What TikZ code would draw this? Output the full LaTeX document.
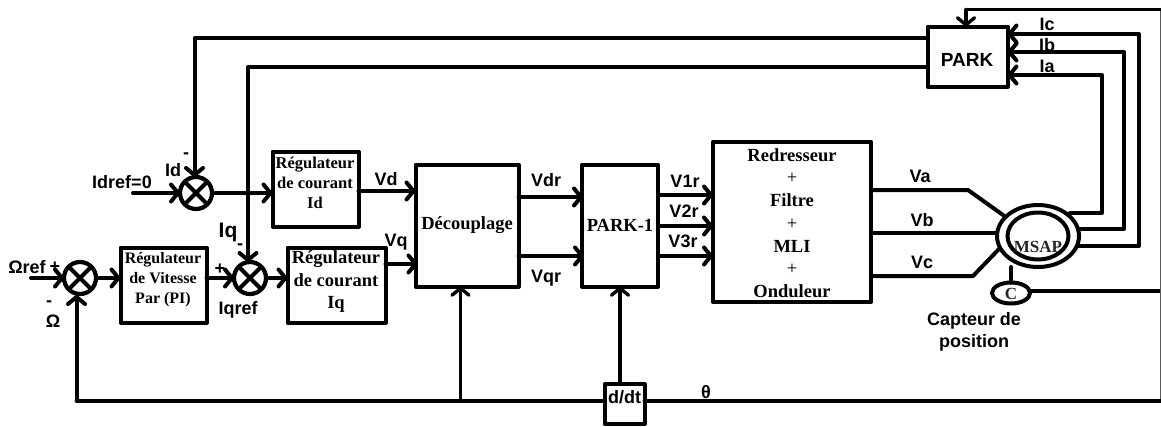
\documentclass[tikz,border=0pt]{standalone}
\usepackage{fontspec}
\setmainfont{Liberation Serif}
\setsansfont{Liberation Sans}
\usetikzlibrary{arrows.meta,calc,shapes.geometric}
\tikzset{
  x=1pt,y=-1pt,
  wire/.style={line width=4pt,line cap=round,line join=round},
  arr/.style={wire,-{Straight Barb[length=7pt,width=17pt,line cap=round,line join=round]}},
  thinwire/.style={line width=3pt,line join=miter},
  blockbox/.style={draw,line width=4pt,line join=round,rectangle,inner sep=0pt,outer sep=0pt,align=center,font=\bfseries\fontsize{18.5}{20}\selectfont},
  sumnode/.style={draw,circle,line width=4.2pt,minimum size=32pt,inner sep=0pt,outer sep=0pt,
    path picture={\draw[line width=4.2pt] (path picture bounding box.north west)--(path picture bounding box.south east)
      (path picture bounding box.north east)--(path picture bounding box.south west);}},
  lab/.style={inner sep=0pt,font=\sffamily\bfseries\fontsize{18}{21}\selectfont,align=center},
  slab/.style={inner sep=0pt,font=\bfseries\fontsize{17}{20}\selectfont,align=center},
}
\begin{document}
\begin{tikzpicture}
\useasboundingbox (0,0) rectangle (1161,426);
% sums
\node[sumnode] (sd) at (196,193) {};
\node[sumnode] (so) at (80,278) {};
\node[sumnode] (sq) at (250,278) {};
% boxes
\node[blockbox,minimum width=86pt,minimum height=75pt] (rid) at (315.5,189) {};
\node[slab,font=\bfseries\fontsize{16.5}{20}\selectfont] (ridt) at (315,183) {Régulateur\\de courant\\Id};
\node[blockbox,minimum width=86pt,minimum height=75pt] (rv) at (163.5,285) {};
\node[slab,font=\bfseries\fontsize{16}{20}\selectfont] (rvt) at (163,280) {Régulateur\\de Vitesse\\Par (PI)};
\node[blockbox,minimum width=98pt,minimum height=75pt] (riq) at (336.5,285) {};
\node[slab,font=\bfseries\fontsize{18.5}{22.5}\selectfont] (riqt) at (336,282) {Régulateur\\de courant\\Iq};
\node[blockbox,minimum width=103pt,minimum height=122pt] (dec) at (467,225.5) {Découplage};
\node[blockbox,minimum width=76pt,minimum height=122pt] (pi) at (620,225.5) {PARK-1};
\node[blockbox,minimum width=158pt,minimum height=160pt] (red) at (792,222) {};
\node[slab,font=\bfseries\fontsize{18.5}{22.7}\selectfont] (redt) at (792,223) {Redresseur\\{\mdseries +}\\Filtre\\{\mdseries +}\\MLI\\{\mdseries +}\\Onduleur};
\node[blockbox,minimum width=40pt,minimum height=40pt] (ddt) at (624.5,404) {};
\node[lab] (ddtt) at (624.5,397) {d/dt};
\node[blockbox,minimum width=80pt,minimum height=60pt] (park) at (967.5,56.5) {};
\node[lab,font=\sffamily\bfseries\fontsize{19}{21}\selectfont] (parkt) at (967,60) {PARK};
% machine
\node[draw,ellipse,line width=4pt,minimum width=82pt,minimum height=62pt,inner sep=0pt,outer sep=0pt] (mo) at (1038,236) {};
\node[draw,ellipse,line width=4pt,minimum width=61pt,minimum height=47pt,inner sep=0pt,outer sep=0pt] (mi) at (1038,236) {};
\node[slab,text=black!85] (mt) at (1038,247) {MSAP};
\node[draw,ellipse,line width=4pt,minimum width=38pt,minimum height=21pt,inner sep=0pt,outer sep=0pt] (cap) at (1011,293) {};
\node[slab,text=black!85] (capt) at (1011,294) {C};
% named free ends
\coordinate (in1) at (133,193);
\coordinate (in2) at (31,278);
\coordinate (bl) at (76.5,400.5);
\coordinate (bd) at (460.5,400.5);
\coordinate (br) at (1160.5,400.5);
\coordinate (tr) at (1160.5,9.5);
\coordinate (tl) at (966,9.5);
\coordinate (cr) at (1160.5,291);
\coordinate (p1) at (194.5,38);
\coordinate (p2) at (248,67);
\coordinate (c1) at (1139,34);
\coordinate (c2) at (1139,246);
\coordinate (b1) at (1124,52);
\coordinate (b2) at (1124,229);
\coordinate (a1) at (1102,75);
\coordinate (a2) at (1102,213);
\coordinate (va1) at (968,190);
\coordinate (va2) at (1003,215);
\coordinate (vc1) at (973,276);
\coordinate (vc2) at (999,249);
\coordinate (yvd) at (0,191);
\coordinate (yvq) at (0,264);
\coordinate (yvdr) at (0,197);
\coordinate (yvqr) at (0,256);
\coordinate (yv1) at (0,195);
\coordinate (yv2) at (0,226);
\coordinate (yvb) at (0,233);
% forward arrows
\draw[arr] (in1) -- (sd.west);
\draw[arr] (in2) -- (so.west);
\draw[arr] ($(sd.east)+(3,0)$) -- (rid.west |- sd);
\draw[arr] ($(so.east)+(3,0)$) -- (rv.west |- so);
\draw[arr] (rv.east |- sq) -- (sq.west);
\draw[arr] ($(sq.east)+(3,0)$) -- (riq.west |- sq);
\draw[arr] (rid.east |- yvd) -- (dec.west |- yvd);
\draw[arr] (riq.east |- yvq) -- ($(dec.west |- yvq)+(2,0)$);
\draw[arr] (dec.east |- yvdr) -- ($(pi.west |- yvdr)+(1,0)$);
\draw[arr] (dec.east |- yvqr) -- ($(pi.west |- yvqr)+(2,0)$);
\draw[arr] (pi.east |- yv1) -- (red.west |- yv1);
\draw[arr] (pi.east |- yv2) -- (red.west |- yv2);
\draw[arr] (pi.east |- yvqr) -- (red.west |- yvqr);
% feedback
\draw[arr] (park.west |- p1) -- (p1) -- (sd.north -| p1);
\draw[arr] (park.west |- p2) -- (p2) -- (sq.north -| p2);
\draw[arr] (mo.east |- c2) -- (c2) -- (c1) -- (park.east |- c1);
\draw[arr] (mo.east |- b2) -- (b2) -- (b1) -- (park.east |- b1);
\draw[arr] ($(a2)+(-32,0)$) -- (a2) -- (a1) -- (park.east |- a1);
\draw[wire] (red.east |- va1) -- (va1) -- (va2);
\draw[wire] (red.east |- yvb) -- (mo.west |- yvb);
\draw[wire] (red.east |- vc1) -- (vc1) -- (vc2);
\draw[wire] (mo.south -| cap) -- (cap.north);
\draw[line width=3.4pt] (cap.east |- cr) -- (cr);
\draw[line width=2pt,gray!70!black] (cr) -- (br);
\draw[line width=2pt,gray!70!black] (tr) -- (cr);
\draw[thinwire] (tr) -- (tl);
\draw[arr,line width=3.4pt] (tl) -- (park.north -| tl);
\draw[wire] (br) -- (ddt.east |- br);
\draw[wire] (ddt.west |- bl) -- (bl);
\draw[arr] (bl) -- ($(so.south -| bl)+(0,1)$);
\draw[arr,line width=3.4pt] (bd) -- (dec.south -| bd);
\draw[arr,line width=3.4pt] (ddt.north -| pi) -- (pi.south);
% labels
\node[lab] (l1) at (122,182) {Idref=0};
\node[lab] (l2) at (173,170) {Id};
\node[lab] (l3) at (186,156) {-};
\node[lab,font=\sffamily\bfseries\fontsize{21}{24}\selectfont] (l4) at (228,232) {Iq};
\node[lab] (l5) at (240,247) {-};
\node[lab] (l6) at (238,310) {Iqref};
\node[lab] (l7) at (220,269) {+};
\node[lab] (l8) at (27,267) {Ωref};
\node[lab] (l9) at (55,267) {+};
\node[lab] (l10) at (49,304) {-};
\node[lab] (l11) at (53,321) {Ω};
\node[lab] (l12) at (386,179) {Vd};
\node[lab] (l13) at (396,242) {Vq};
\node[lab] (l14) at (546,180) {Vdr};
\node[lab] (l15) at (546,278) {Vqr};
\node[lab] (l16) at (685,181) {V1r};
\node[lab] (l17) at (684,211) {V2r};
\node[lab] (l18) at (683,241) {V3r};
\node[lab] (l19) at (920,176) {Va};
\node[lab] (l20) at (922,220) {Vb};
\node[lab] (l21) at (922,262) {Vc};
\node[lab] (l22) at (1047,24) {Ic};
\node[lab] (l23) at (1047,45) {Ib};
\node[lab] (l24) at (1047,66) {Ia};
\node[lab] (l25) at (706,392) {θ};
\node[lab,font=\sffamily\bfseries\fontsize{18}{22}\selectfont] (l26) at (974,332) {Capteur de\\position};
\end{tikzpicture}
\end{document}
